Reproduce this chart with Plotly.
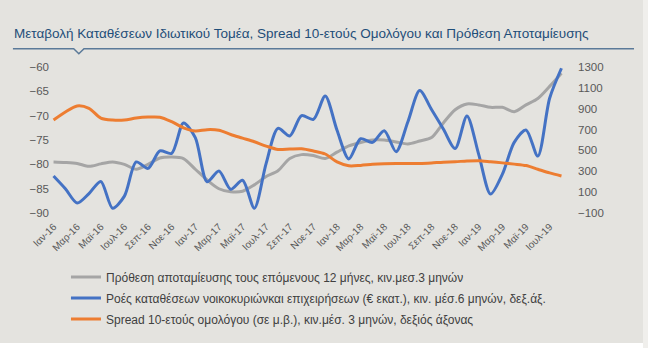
import plotly.graph_objects as go

months = ["Ιαν", "Φεβ", "Μαρ", "Απρ", "Μαϊ", "Ιουν", "Ιουλ", "Αυγ", "Σεπ", "Οκτ", "Νοε", "Δεκ"]
years = ["16", "17", "18", "19"]
categories = [f"{m}-{y}" for y in years for m in months][:44]  # Ιαν-16 .. Αυγ-19

savings_intention = [-79.5, -79.6, -79.8, -80.4, -79.9, -79.5, -80.0, -81.0, -80.0, -78.7,
                     -78.5, -78.8, -81.0, -83.2, -85.0, -85.6, -85.5, -84.2, -82.5, -81.3,
                     -78.8, -78.0, -78.2, -78.8, -77.5, -76.2, -75.5, -75.0, -75.0, -75.4,
                     -75.8, -75.2, -74.5, -71.5, -68.8, -67.6, -67.8, -68.3, -68.3, -69.2,
                     -67.8, -66.5, -64.0, -61.3]
deposit_flows = [255, 133, -4, 87, 203, -53, 63, 390, 328, 495,
                 472, 763, 623, 200, 303, 128, 215, -53, 376, 712,
                 639, 833, 798, 1022, 693, 419, 612, 577, 689, 488,
                 775, 1073, 892, 705, 518, 830, 460, 82, 273, 577,
                 696, 446, 1000, 1287]
spread_10y = [791, 868, 926, 903, 810, 791, 791, 810, 819, 818,
              775, 717, 686, 699, 693, 653, 618, 583, 542, 509,
              513, 516, 495, 466, 390, 353, 357, 367, 373, 376,
              376, 376, 381, 388, 392, 399, 402, 392, 381, 369,
              355, 320, 285, 255]

left_ticks = [-60, -65, -70, -75, -80, -85, -90]
right_ticks = [1300, 1100, 900, 700, 500, 300, 100, -100]
tick_idx = list(range(0, 43, 2))
tick_labels = [categories[i] for i in tick_idx]

names = ["Πρόθεση αποταμίευσης τους επόμενους 12 μήνες, κιν.μεσ.3 μηνών",
         "Ροές καταθέσεων νοικοκυριώνκαι επιχειρήσεων (€ εκατ.), κιν. μέσ.6 μηνών, δεξ.άξ.",
         "Spread 10-ετούς ομολόγου (σε μ.β.), κιν.μέσ. 3 μηνών, δεξιός άξονας"]
colors = ["#a5a5a5", "#4472c4", "#ed7d31"]
title = "Μεταβολή Καταθέσεων Ιδιωτικού Τομέα, Spread 10-ετούς Ομολόγου και Πρόθεση Αποταμίευσης"

x = list(range(len(categories)))
fig = go.Figure()
fig.add_trace(go.Scatter(x=x, y=savings_intention, name=names[0], mode="lines",
                         line=dict(color=colors[0], width=3, shape="spline", smoothing=0.8),
                         legendgroup="a"))
fig.add_trace(go.Scatter(x=x, y=deposit_flows, name=names[1], mode="lines", yaxis="y2",
                         line=dict(color=colors[1], width=3, shape="spline", smoothing=0.8),
                         legendgroup="b"))
fig.add_trace(go.Scatter(x=x, y=spread_10y, name=names[2], mode="lines", yaxis="y2",
                         line=dict(color=colors[2], width=3, shape="spline", smoothing=0.8),
                         legendgroup="c"))

bg = "#e4e3df"
fig.update_layout(
    width=648, height=348,
    margin=dict(l=50, r=83, t=62, b=130),
    paper_bgcolor=bg, plot_bgcolor=bg,
    font=dict(family="Liberation Sans, Arial, sans-serif", color="#595959", size=11),
    showlegend=True,
    legend=dict(x=0.031, y=-0.285, xanchor="left", yanchor="top",
                bgcolor="rgba(0,0,0,0)", itemwidth=30, tracegroupgap=2, traceorder="grouped",
                font=dict(size=12, color="#404040")),
    xaxis=dict(range=[-0.3, 43.3], tickvals=tick_idx, ticktext=tick_labels, tickangle=-45,
               showgrid=False, zeroline=False, showline=False, ticks="",
               tickfont=dict(size=10, color="#595959")),
    yaxis=dict(range=[-91, -59], tickvals=left_ticks, showgrid=False, zeroline=False,
               showline=False, ticks="", tickfont=dict(size=11.5, color="#595959")),
    yaxis2=dict(range=[-146.67, 1346.67], tickvals=right_ticks, overlaying="y", side="right",
                showgrid=False, zeroline=False, showline=False, ticks="", ticklabelstandoff=12,
                tickfont=dict(size=11.5, color="#595959")),
    annotations=[dict(text=title, xref="paper", yref="paper", x=-0.074, y=1.18,
                      xanchor="left", yanchor="middle", showarrow=False,
                      font=dict(size=13.5, color="#1f4e79"))],
    shapes=[
        dict(type="path", xref="paper", yref="paper",
             path="M -0.072,1.085 L 0.046,1.085 L 0.056,1.053 L 0.066,1.085 L 1.134,1.085",
             line=dict(color="#5b7a99", width=1.5)),
        dict(type="rect", xref="paper", yref="paper", x0=-0.2, x1=1.3, y0=-0.801, y1=-0.95,
             fillcolor="white", line=dict(width=0), layer="below"),
        dict(type="rect", xref="paper", yref="paper", x0=1.1515, x1=1.3, y0=-0.95, y1=1.5,
             fillcolor="#f0efec", line=dict(width=0), layer="below"),
    ],
)
fig.write_html("out.html")
